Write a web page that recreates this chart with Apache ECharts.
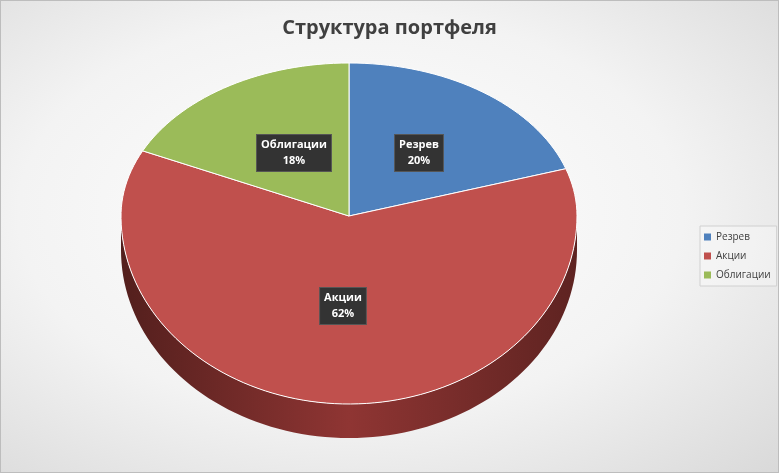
<!DOCTYPE html>
<html><head><meta charset="utf-8">
<script src="https://cdn.jsdelivr.net/npm/echarts@6/dist/echarts.min.js"></script>
<style>html,body{margin:0;padding:0}#c{width:779px;height:473px;background:radial-gradient(ellipse at 45% 45%,#ffffff 0%,#f3f3f3 55%,#d9d9d9 100%);box-sizing:border-box;border:1px solid #bdbdbd}</style>
</head><body><div id="c"></div>
<script>
const categories = ['Резрев', 'Акции', 'Облигации'];
const values = [20, 62, 18];
const colors = ['#4f81bd', '#c0504d', '#9bbb59'];

const CX = 348, CY = 215, RX = 228, RYT = 153, RYB = 188, DEPTH = 34;
const total = values.reduce((a, b) => a + b, 0);
const starts = []; let acc = 0;
values.forEach(v => { starts.push(acc / total * 360); acc += v; });
function pt(deg, dy) { const r = deg * Math.PI / 180; const c = Math.cos(r); return [CX + RX * Math.sin(r), CY - (c > 0 ? RYT : RYB) * c + (dy || 0)]; }
function arc(a, b, dy) { const p = []; const n = Math.max(2, Math.ceil((b - a) / 2)); for (let i = 0; i <= n; i++) p.push(pt(a + (b - a) * i / n, dy)); return p; }

const chart = echarts.init(document.getElementById('c'));
const series = [];
series.push({
  type: 'custom', coordinateSystem: 'none', silent: true, z: 1,
  data: values.map((v, i) => i),
  renderItem: function (params, api) {
    const i = params.dataIndex;
    const a = Math.max(starts[i], 90), b = Math.min(starts[i] + values[i] / total * 360, 270);
    if (b <= a) return { type: 'group', children: [] };
    const top = arc(a, b, 0), bot = arc(a, b, DEPTH).reverse();
    const base = colors[i];
    return { type: 'polygon', shape: { points: top.concat(bot) },
      style: { fill: new echarts.graphic.LinearGradient(0, 0, 1, 0, [
        { offset: 0, color: echarts.color.modifyHSL(base, null, null, 0.22) },
        { offset: 0.5, color: echarts.color.modifyHSL(base, null, null, 0.38) },
        { offset: 1, color: echarts.color.modifyHSL(base, null, null, 0.25) }]) } };
  }
});
categories.forEach((name, i) => {
  series.push({
    type: 'custom', name: name, coordinateSystem: 'none', z: 2,
    itemStyle: { color: colors[i] },
    data: [values[i]],
    renderItem: function (params, api) {
      const a = starts[i], b = a + values[i] / total * 360;
      const pts = [[CX, CY]].concat(arc(a, b, 0));
      const pos = [[418, 152], [342, 305], [293, 152]][i];
      return { type: 'group', children: [
        { type: 'polygon', shape: { points: pts }, style: { fill: colors[i], stroke: '#ffffff', lineWidth: 1 } },
        { type: 'text', x: pos[0], y: pos[1], z2: 10,
          style: { text: name + '\n' + values[i] + '%', fill: '#fff', font: 'bold 11px "Open Sans", "DejaVu Sans", sans-serif',
            align: 'center', verticalAlign: 'middle', lineHeight: 16, backgroundColor: '#333',
            padding: [2, 4], borderColor: '#555', borderWidth: 1 } }
      ] };
    }
  });
});

chart.setOption({
  title: { text: 'Структура портфеля', left: 'center', top: 12,
    textStyle: { fontFamily: '"Open Sans", sans-serif', fontSize: 20, fontWeight: 'bold', color: '#404040' } },
  legend: { orient: 'vertical', left: 699, top: 225, itemWidth: 7, itemHeight: 7, itemGap: 9,
    icon: 'rect', data: categories, selectedMode: false,
    textStyle: { fontSize: 10, color: '#404040', fontFamily: '"Open Sans", sans-serif' },
    borderColor: '#d0d0d0', borderWidth: 1, padding: [6, 6, 6, 4], backgroundColor: 'rgba(255,255,255,0.3)' },
  series: series,
  animation: false
});
</script></body></html>
